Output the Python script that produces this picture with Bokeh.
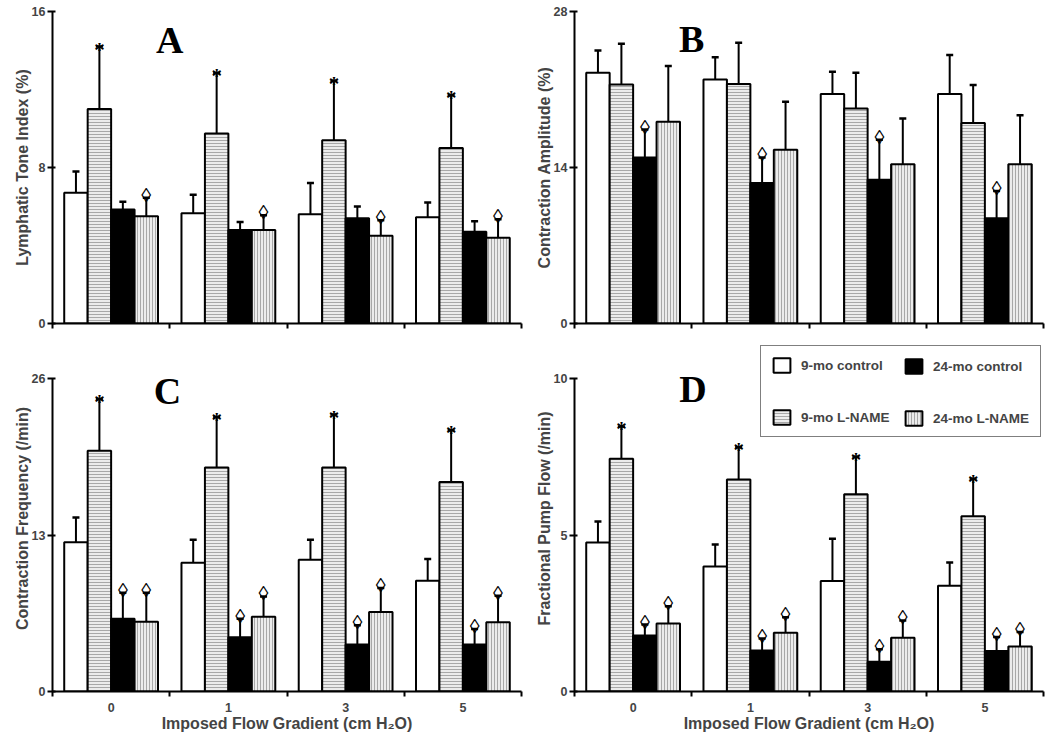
from bokeh.plotting import figure
from bokeh.models import (ColumnDataSource, FixedTicker, Whisker, TeeHead, Label,
                          Legend, LegendItem, Range1d)
from bokeh.layouts import column, row
from bokeh.embed import file_html
from bokeh.resources import INLINE
from bokeh.core.properties import value

# ---------------- data ----------------
groups = ["0", "1", "3", "5"]
series = ["9-mo control", "9-mo L-NAME", "24-mo control", "24-mo L-NAME"]
x_title = "Imposed Flow Gradient (cm H\u2082O)"

# Panel A: Lymphatic Tone Index (%)
a_ticks = [0, 8, 16]
a_9c = [6.7, 5.65, 5.6, 5.45]
a_9c_err = [1.1, 0.95, 1.6, 0.75]
a_9L = [11.0, 9.75, 9.4, 9.0]
a_9L_err = [3.2, 3.1, 3.05, 2.7]
a_24c = [5.85, 4.8, 5.4, 4.7]
a_24c_err = [0.4, 0.4, 0.6, 0.55]
a_24L = [5.5, 4.8, 4.5, 4.4]
a_24L_err = [0.95, 0.75, 0.8, 0.95]
a_marks = ["", "*", "", "\u25CA"]

# Panel B: Contraction Amplitude (%)
b_ticks = [0, 14, 28]
b_9c = [22.5, 21.9, 20.6, 20.6]
b_9c_err = [2.0, 2.0, 2.0, 3.5]
b_9L = [21.45, 21.5, 19.3, 18.0]
b_9L_err = [3.65, 3.7, 3.2, 3.4]
b_24c = [14.9, 12.6, 12.9, 9.45]
b_24c_err = [2.5, 2.3, 3.6, 2.45]
b_24L = [18.1, 15.6, 14.3, 14.3]
b_24L_err = [5.0, 4.3, 4.1, 4.4]
b_marks = ["", "", "\u25CA", ""]

# Panel C: Contraction Frequency (/min)
c_ticks = [0, 13, 26]
c_9c = [12.4, 10.7, 10.95, 9.2]
c_9c_err = [2.05, 1.9, 1.65, 1.8]
c_9L = [20.0, 18.6, 18.6, 17.4]
c_9L_err = [4.3, 4.2, 4.4, 4.3]
c_24c = [6.05, 4.5, 3.9, 3.9]
c_24c_err = [2.15, 1.55, 1.6, 1.3]
c_24L = [5.8, 6.2, 6.6, 5.75]
c_24L_err = [2.4, 1.7, 2.0, 2.2]
c_marks = ["", "*", "\u25CA", "\u25CA"]

# Panel D: Fractional Pump Flow (/min)
d_ticks = [0, 5, 10]
d_9c = [4.76, 3.99, 3.53, 3.38]
d_9c_err = [0.67, 0.71, 1.35, 0.74]
d_9L = [7.44, 6.77, 6.3, 5.6]
d_9L_err = [1.03, 1.03, 1.2, 1.2]
d_24c = [1.79, 1.31, 0.95, 1.29]
d_24c_err = [0.35, 0.38, 0.4, 0.45]
d_24L = [2.17, 1.88, 1.72, 1.44]
d_24L_err = [0.55, 0.49, 0.55, 0.46]
d_marks = ["", "*", "\u25CA", "\u25CA"]

# ---------------- styling ----------------
centers = [0.5, 1.5, 2.5, 3.5]
boundaries = [0, 1, 2, 3, 4]
offsets = [-0.3, -0.1, 0.1, 0.3]
bar_w = 0.2
styles = [
    dict(fill_color="white"),
    dict(fill_color="#ececec", hatch_pattern="-", hatch_color="#a8a8a8", hatch_scale=3, hatch_weight=1),
    dict(fill_color="black"),
    dict(fill_color="#ececec", hatch_pattern="|", hatch_color="#a8a8a8", hatch_scale=3, hatch_weight=1),
]
SANS = "Liberation Sans"
SERIF = "Liberation Serif"

FRAME_H = 313          # plotted axis height in px (bottom row)
EXTRA = 33             # extra frame height above bottom-row axes so the legend is not clipped


def make_panel(vals, errs, marks, yticks, ylabel, letter, letter_x, letter_y, left, bottom,
               extra_top=0):
    w = 527 if left else 521
    h = 397 if bottom else 340
    top_border = (38 if bottom else 11) - extra_top
    frame_h = FRAME_H if bottom else 312
    y_end = yticks[-1] * (frame_h + extra_top) / frame_h
    p = figure(width=w, height=h, x_range=Range1d(0, 4), y_range=Range1d(0, y_end),
               output_backend="svg", toolbar_location=None,
               min_border_left=52 if left else 47, min_border_right=6 if left else 5,
               min_border_top=top_border, min_border_bottom=46 if bottom else 17)
    p.outline_line_color = None
    p.grid.visible = False
    p.background_fill_color = "white"
    p.border_fill_color = "white"

    renderers = []
    for k in range(4):
        xs = [c + offsets[k] for c in centers]
        hi = [v + e for v, e in zip(vals[k], errs[k])]
        src = ColumnDataSource(dict(x=xs, top=vals[k], hi=hi, mark=[marks[k]] * 4))
        r = p.vbar(x="x", top="top", width=bar_w, bottom=0, source=src,
                   line_color="black", line_width=2, **styles[k])
        renderers.append(r)
        wk = Whisker(source=src, base="x", lower="top", upper="hi", dimension="height",
                     lower_head=None,
                     upper_head=TeeHead(size=7, line_width=2.5, line_color="black"),
                     line_width=2, line_color="black")
        p.add_layout(wk)
        if marks[k]:
            if marks[k] == "*":
                p.text(x="x", y="hi", text="mark", source=src, text_font=value(SERIF),
                       text_font_style="bold", text_font_size="21px", text_align="center",
                       text_baseline="alphabetic", y_offset=3, text_color="black")
            else:
                p.text(x="x", y="hi", text="mark", source=src, text_font=value(SERIF),
                       text_font_size="20px", text_align="center",
                       text_baseline="alphabetic", y_offset=-3, text_color="black")

    # y axis
    ya = p.yaxis[0]
    ya.ticker = FixedTicker(ticks=yticks, minor_ticks=[])
    ya.bounds = (yticks[0], yticks[-1])
    ya.axis_label = ylabel
    ya.axis_label_text_font = SANS
    ya.axis_label_text_font_style = "bold"
    ya.axis_label_text_font_size = "16px"
    ya.axis_label_standoff = -2
    ya.major_label_text_font = SANS
    ya.major_label_text_font_style = "bold"
    ya.major_label_text_font_size = "12.5px"
    ya.major_label_standoff = 2
    ya.major_tick_out = 5
    ya.major_tick_in = 3
    ya.major_tick_line_width = 2
    ya.axis_line_width = 2
    ya.minor_tick_line_color = None

    # x axis
    xa = p.xaxis[0]
    xa.major_tick_out = 0
    xa.major_tick_in = 0
    xa.minor_tick_out = 5
    xa.minor_tick_in = 0
    xa.minor_tick_line_width = 2
    xa.minor_tick_line_color = "black"
    xa.axis_line_width = 2
    if bottom:
        xa.ticker = FixedTicker(ticks=centers, minor_ticks=boundaries)
        xa.major_label_overrides = dict(zip(centers, groups))
        xa.axis_label = x_title
        xa.axis_label_text_font = SANS
        xa.axis_label_text_font_style = "bold"
        xa.axis_label_text_font_size = "16px"
        xa.axis_label_standoff = 0
        xa.major_label_text_font = SANS
        xa.major_label_text_font_style = "bold"
        xa.major_label_text_font_size = "12.5px"
        xa.major_label_standoff = 6
    else:
        xa.ticker = FixedTicker(ticks=[], minor_ticks=boundaries)
        xa.major_label_standoff = 0

    p.add_layout(Label(x=letter_x, y=letter_y, text=letter, text_font=SERIF, text_font_style="bold",
                       text_font_size="38px", text_align="center", text_baseline="alphabetic",
                       text_color="black"))
    return p, renderers


pA, _ = make_panel([a_9c, a_9L, a_24c, a_24L], [a_9c_err, a_9L_err, a_24c_err, a_24L_err],
                   a_marks, a_ticks, "Lymphatic Tone Index (%)", "A", 1.0, 14.55, True, False)
pB, _ = make_panel([b_9c, b_9L, b_24c, b_24L], [b_9c_err, b_9L_err, b_24c_err, b_24L_err],
                   b_marks, b_ticks, "Contraction Amplitude (%)", "B", 1.0, 25.5, False, False)
pC, _ = make_panel([c_9c, c_9L, c_24c, c_24L], [c_9c_err, c_9L_err, c_24c_err, c_24L_err],
                   c_marks, c_ticks, "Contraction Frequency (/min)", "C", 0.98, 24.95, True, True,
                   extra_top=EXTRA)
pD, rD = make_panel([d_9c, d_9L, d_24c, d_24L], [d_9c_err, d_9L_err, d_24c_err, d_24L_err],
                    d_marks, d_ticks, "Fractional Pump Flow (/min)", "D", 1.01, 9.67, False, True,
                    extra_top=EXTRA)

common = dict(orientation="vertical", glyph_width=21, glyph_height=18, label_standoff=9,
              label_height=18, spacing=34, padding=10, margin=0,
              label_text_font=SANS, label_text_font_style="bold", label_text_font_size="13.5px")
legend_left = Legend(items=[LegendItem(label=series[i], renderers=[rD[i]]) for i in [0, 1]],
                     location=(186, 254), label_width=229,
                     border_line_color="black", border_line_width=1.5,
                     background_fill_color="white", **common)
legend_right = Legend(items=[LegendItem(label=series[i], renderers=[rD[i]]) for i in [2, 3]],
                      location=(319, 254), border_line_color="white", border_line_alpha=0,
                      background_fill_alpha=0, **common)
pD.add_layout(legend_left)
pD.add_layout(legend_right)

layout = column(row(pA, pB), row(pC, pD))
open("out.html", "w").write(file_html(layout, INLINE))
